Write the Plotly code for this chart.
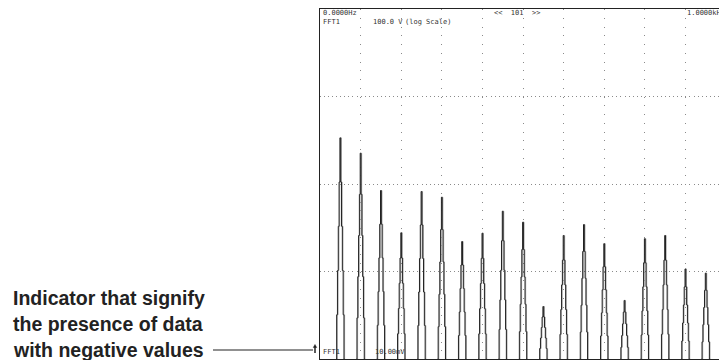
import plotly.graph_objects as go

# ---------------- data ----------------
harmonic_hz = [50, 100, 150, 200, 250, 300, 350, 400, 450, 500,
               550, 600, 650, 700, 750, 800, 850, 900, 950]
peak_volts = [3.37, 2.25, 0.843, 0.277, 0.821, 0.706, 0.220, 0.274, 0.489, 0.366,
              0.0398, 0.258, 0.344, 0.208, 0.0467, 0.237, 0.258, 0.107, 0.0957]
# log-height of the neighbouring bins relative to the peak
neighbour_rel_level = [0.8, 0.6, 0.4, 0.2, 0.0]
bin_hz = 2.0
floor_volts = 0.01          # bottom of the log display (10.00 mV)
span_hz = 1000.0            # 0.0000Hz .. 1.0000kHz

top_labels = ["0.0000Hz", "FFT1", "100.0 V", "(log Scale)", "<<  101  >>", "1.0000kHz"]
bottom_labels = ["FFT1", "10.00mV"]
note_lines = ["Indicator that signify", "the presence of data", "with negative values"]

# ---------------- geometry ----------------
W, H = 719, 360
L, R, T, B = 320, 0, 9, 1
div_px = 40.6                       # pixels per 100 Hz division
x_max = (W - L - R) / div_px * (span_hz / 10)

def px2x(px):
    return (px - L) / (W - L - R)

def py2y(py):
    return (H - B - py) / (H - T - B)

xs, ys = [], []
for f, a in zip(harmonic_hz, peak_volts):
    n = len(neighbour_rel_level)
    for k in range(-n, n + 1):
        if k == 0:
            v = a
        else:
            r = neighbour_rel_level[abs(k) - 1]
            v = floor_volts * (a / floor_volts) ** r
        xs.append(f + k * bin_hz)
        ys.append(v)
    xs.append(None)
    ys.append(None)

xs_g = [x + 1.6 if x is not None else None for x in xs]

fig = go.Figure()
fig.add_trace(go.Scatter(x=xs_g, y=ys, mode="lines", line_shape="hvh",
                         line=dict(color="#a8a8a8", width=1.0), hoverinfo="skip"))
fig.add_trace(go.Scatter(x=xs, y=ys, mode="lines", line_shape="hvh",
                         line=dict(color="#222222", width=1.0), hoverinfo="skip"))

mono = "DejaVu Sans Mono"
ann = []
def txt(text, px, py, size=7, font=mono, color="#333", bold=False):
    ann.append(dict(text=("<b>%s</b>" % text) if bold else text,
                    xref="paper", yref="paper", x=px2x(px), y=py2y(py),
                    xanchor="left", yanchor="middle", showarrow=False,
                    font=dict(family=font, size=size, color=color)))

txt(top_labels[0], 321, 13)
txt(top_labels[1], 321, 22)
txt(top_labels[2], 371, 22)
txt(top_labels[3], 403, 22)
txt(top_labels[4], 492, 13)
txt(top_labels[5], 685, 13)
txt(bottom_labels[0], 321, 352)
txt(bottom_labels[1], 373, 352)

for i, line in enumerate(note_lines):
    txt(line, 11, 298 + i * 26, size=19.5, font="Liberation Sans", color="#222", bold=True)

shapes = [
    dict(type="line", xref="paper", yref="paper",
         x0=px2x(213), x1=px2x(313), y0=py2y(350), y1=py2y(350),
         line=dict(color="#222", width=1.2)),
    dict(type="line", xref="paper", yref="paper",
         x0=px2x(315), x1=px2x(315), y0=py2y(346), y1=py2y(353),
         line=dict(color="#222", width=1.5)),
    dict(type="path", xref="paper", yref="paper",
         path="M %f %f L %f %f L %f %f Z" % (px2x(313.3), py2y(347.5), px2x(316.7), py2y(347.5), px2x(315), py2y(344.5)),
         fillcolor="#222", line=dict(color="#222", width=0.5)),
]

fig.update_layout(
    width=W, height=H,
    margin=dict(l=L, r=R, t=T, b=B, pad=0),
    paper_bgcolor="white", plot_bgcolor="white",
    showlegend=False,
    annotations=ann, shapes=shapes,
    xaxis=dict(range=[0, x_max], dtick=100, tick0=0, showticklabels=False, ticks="",
               showgrid=True, gridcolor="#8a8a8a", gridwidth=1, griddash="1px,7.75px",
               zeroline=False, showline=True, mirror=True, linecolor="#222", linewidth=1),
    yaxis=dict(type="log", range=[-2, 2], dtick=1, showticklabels=False, ticks="",
               showgrid=True, gridcolor="#8a8a8a", gridwidth=1, griddash="1px,3.06px",
               zeroline=False, showline=True, mirror=False, linecolor="#222", linewidth=1),
)

fig.write_html("out.html", config={"displayModeBar": False},
               post_script="document.body.style.margin='0';document.body.style.padding='0';")
